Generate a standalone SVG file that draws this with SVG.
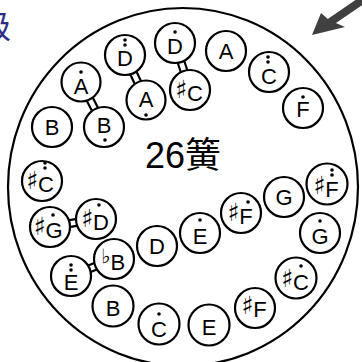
<svg xmlns="http://www.w3.org/2000/svg" width="362" height="362" viewBox="0 0 362 362">
<style>
.nc{fill:#fff;stroke:#000;stroke-width:2.2}
.lb{font-family:"Liberation Sans",Arial,sans-serif;font-size:22px;fill:#000;text-anchor:middle}
.acc{font-family:"DejaVu Sans","DejaVu Serif",sans-serif;font-size:25px;fill:#000;font-variant-emoji:text}
.fl{font-family:"DejaVu Sans","DejaVu Serif",sans-serif;font-size:20px;fill:#000;font-variant-emoji:text}
.dt{fill:#000}
.lo{stroke:#000;stroke-width:9;fill:none}
.li{stroke:#fff;stroke-width:4.6;fill:none}
</style>
<rect width="362" height="362" fill="#fff"/>
<text x="-21" y="38" font-family="'Noto Sans CJK SC',sans-serif" font-size="32" fill="#2e2d88">级</text>
<g id="arrow" fill="#404040">
<line x1="364" y1="-1" x2="326" y2="25" stroke="#404040" stroke-width="8"/>
<polygon points="312,35 321,13 329,20 345,27"/>
</g>
<ellipse id="frame" cx="183" cy="187" rx="175" ry="179" fill="none" stroke="#000" stroke-width="2.2"/>
<g id="connectors">
<path class="lo" d="M81,82L104,127M125,55L146,100M175,43L190,90M50,227L96,219M71,276L114,259"/>
<path class="li" d="M81,82L104,127M125,55L146,100M175,43L190,90M50,227L96,219M71,276L114,259"/>
</g>
<text x="145" y="168" font-family="'Liberation Sans','Noto Sans CJK SC',sans-serif" font-size="36" fill="#000">26<tspan font-family="'Noto Sans CJK SC',sans-serif">簧</tspan></text>
<g id="n1"><circle class="nc" cx="81" cy="82" r="19.5"/><text class="lb" x="81" y="94">A</text><circle class="dt" cx="81" cy="72" r="1.8"/></g>
<g id="n2"><circle class="nc" cx="125" cy="55" r="20"/><text class="lb" x="125" y="66">D</text><circle class="dt" cx="125" cy="40" r="1.8"/><circle class="dt" cx="125" cy="45" r="1.8"/></g>
<g id="n3"><circle class="nc" cx="175" cy="43" r="20"/><text class="lb" x="175" y="54">D</text><circle class="dt" cx="175" cy="32" r="1.8"/></g>
<g id="n4"><circle class="nc" cx="226" cy="51" r="20"/><text class="lb" x="226" y="59">A</text></g>
<g id="n5"><circle class="nc" cx="190" cy="90" r="20"/><text class="lb" x="189" y="101"><tspan class="acc" dy="-3">♯︎</tspan><tspan dy="3">C</tspan></text></g>
<g id="n6"><circle class="nc" cx="146" cy="100" r="19.5"/><text class="lb" x="146" y="107">A</text><circle class="dt" cx="146" cy="115" r="1.8"/></g>
<g id="n7"><circle class="nc" cx="269" cy="72" r="20"/><text class="lb" x="269" y="84">C</text><circle class="dt" cx="268" cy="57" r="1.8"/><circle class="dt" cx="268" cy="62" r="1.8"/></g>
<g id="n8"><circle class="nc" cx="303" cy="108" r="20"/><text class="lb" x="303" y="117">F</text><circle class="dt" cx="303" cy="97" r="1.8"/></g>
<g id="n9"><circle class="nc" cx="52" cy="127" r="20"/><text class="lb" x="52" y="135">B</text></g>
<g id="n10"><circle class="nc" cx="104" cy="127" r="20"/><text class="lb" x="104" y="133">B</text><circle class="dt" cx="105" cy="140" r="1.8"/></g>
<g id="n11"><circle class="nc" cx="42" cy="181" r="20"/><text class="lb" x="40" y="192"><tspan class="acc" dy="-3">♯︎</tspan><tspan dy="3">C</tspan></text><circle class="dt" cx="45" cy="163" r="1.8"/><circle class="dt" cx="45" cy="168" r="1.8"/></g>
<g id="n12"><circle class="nc" cx="50" cy="227" r="20"/><text class="lb" x="48" y="238"><tspan class="acc" dy="-3">♯︎</tspan><tspan dy="3">G</tspan></text><circle class="dt" cx="53" cy="215" r="1.8"/></g>
<g id="n13"><circle class="nc" cx="96" cy="219" r="20"/><text class="lb" x="95" y="230"><tspan class="acc" dy="-3">♯︎</tspan><tspan dy="3">D</tspan></text><circle class="dt" cx="99" cy="205" r="1.8"/></g>
<g id="n14"><circle class="nc" cx="71" cy="276" r="20"/><text class="lb" x="71" y="290">E</text><circle class="dt" cx="71" cy="265" r="1.8"/><circle class="dt" cx="71" cy="270" r="1.8"/></g>
<g id="n15"><circle class="nc" cx="114" cy="259" r="20"/><text class="lb" x="113" y="270"><tspan class="fl" dy="-7">♭︎</tspan><tspan dy="7">B</tspan></text></g>
<g id="n16"><circle class="nc" cx="157" cy="246" r="20"/><text class="lb" x="157" y="254">D</text></g>
<g id="n17"><circle class="nc" cx="200" cy="233" r="20"/><text class="lb" x="200" y="244">E</text><circle class="dt" cx="200" cy="220" r="1.8"/></g>
<g id="n18"><circle class="nc" cx="241" cy="213" r="20"/><text class="lb" x="240" y="224"><tspan class="acc" dy="-3">♯︎</tspan><tspan dy="3">F</tspan></text><circle class="dt" cx="248" cy="202" r="1.8"/></g>
<g id="n19"><circle class="nc" cx="284" cy="197" r="20"/><text class="lb" x="284" y="205">G</text></g>
<g id="n20"><circle class="nc" cx="327" cy="184" r="20.5"/><text class="lb" x="326" y="197"><tspan class="acc" dy="-3">♯︎</tspan><tspan dy="3">F</tspan></text><circle class="dt" cx="332" cy="170" r="1.8"/><circle class="dt" cx="332" cy="175" r="1.8"/></g>
<g id="n21"><circle class="nc" cx="320" cy="233" r="20"/><text class="lb" x="320" y="244">G</text><circle class="dt" cx="320" cy="221" r="1.8"/></g>
<g id="n22"><circle class="nc" cx="296" cy="278" r="20.5"/><text class="lb" x="295" y="290"><tspan class="acc" dy="-3">♯︎</tspan><tspan dy="3">C</tspan></text><circle class="dt" cx="301" cy="266" r="1.8"/></g>
<g id="n23"><circle class="nc" cx="255" cy="308" r="20"/><text class="lb" x="254" y="317"><tspan class="acc" dy="-3">♯︎</tspan><tspan dy="3">F</tspan></text></g>
<g id="n24"><circle class="nc" cx="209" cy="325" r="20.5"/><text class="lb" x="209" y="335">E</text></g>
<g id="n25"><circle class="nc" cx="159" cy="324" r="20.5"/><text class="lb" x="159" y="337">C</text><circle class="dt" cx="159" cy="314" r="1.8"/></g>
<g id="n26"><circle class="nc" cx="113" cy="306" r="20.5"/><text class="lb" x="113" y="316">B</text></g>
</svg>
